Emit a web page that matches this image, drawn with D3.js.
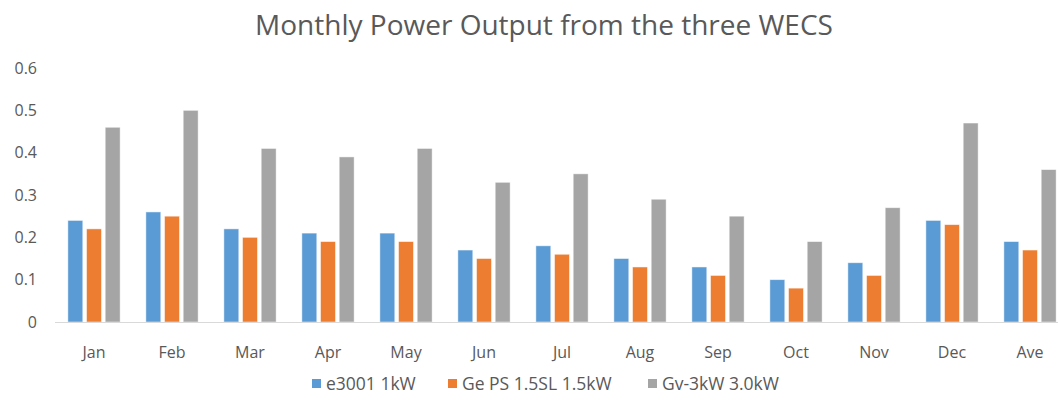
<!DOCTYPE html>
<html>
<head>
<meta charset="utf-8">
<script src="https://cdn.jsdelivr.net/npm/d3@7"></script>
<style>
	body { margin: 0; background: #fff; }
	svg text { font-family: "Open Sans", "Noto Sans", sans-serif; fill: #595959; }
</style>
</head>
<body>
<svg width="1058" height="406"></svg>
<script>

	var months = ["Jan","Feb","Mar","Apr","May","Jun","Jul","Aug","Sep","Oct","Nov","Dec","Ave"];
	var series_names = ["e3001 1kW", "Ge PS 1.5SL 1.5kW", "Gv-3kW 3.0kW"];
	var e3001 = [0.24, 0.26, 0.22, 0.21, 0.21, 0.17, 0.18, 0.15, 0.13, 0.10, 0.14, 0.24, 0.19];
	var ge_ps = [0.22, 0.25, 0.20, 0.19, 0.19, 0.15, 0.16, 0.13, 0.11, 0.08, 0.11, 0.23, 0.17];
	var gv_3kw = [0.46, 0.50, 0.41, 0.39, 0.41, 0.33, 0.35, 0.29, 0.25, 0.19, 0.27, 0.47, 0.36];
	var y_ticks = [0, 0.1, 0.2, 0.3, 0.4, 0.5, 0.6];
	var colors = ["#5B9BD5", "#ED7D31", "#A5A5A5"];

	var svg = d3.select("svg");
	var plot_left = 55, plot_right = 1069, plot_top = 68, plot_bottom = 322;

	var all_values = [e3001, ge_ps, gv_3kw];

	var x0 = d3.scaleBand().domain(months).range([plot_left, plot_right]).paddingInner(0.33).paddingOuter(0.165);
	var x1 = d3.scaleBand().domain(d3.range(3)).range([0, x0.bandwidth()]).paddingInner(0.2);
	var y = d3.scaleLinear().domain([0, 0.6]).range([plot_bottom, plot_top]);

	// title
	svg.append("text")
		.attr("x", 544).attr("y", 35)
		.attr("text-anchor", "middle")
		.style("font-size", "28px")
		.text("Monthly Power Output from the three WECS");

	// y axis labels (no axis line, no gridlines)
	svg.append("g").selectAll("text").data(y_ticks).enter()
		.append("text")
		.attr("x", 37)
		.attr("y", function(d){ return y(d); })
		.attr("dy", "0.35em")
		.attr("text-anchor", "end")
		.style("font-size", "16px")
		.text(function(d){ return d === 0 ? "0" : d3.format(".1f")(d); });

	// bars
	var groups = svg.append("g").selectAll("g").data(months).enter()
		.append("g")
		.attr("transform", function(d){ return "translate(" + x0(d) + ",0)"; });

	groups.selectAll("rect").data(function(d, i){
			return all_values.map(function(arr, s){ return {s: s, v: arr[i]}; });
		}).enter()
		.append("rect")
		.attr("x", function(d){ return x1(d.s); })
		.attr("y", function(d){ return y(d.v); })
		.attr("width", x1.bandwidth())
		.attr("height", function(d){ return plot_bottom - y(d.v); })
		.attr("fill", function(d){ return colors[d.s]; })
		.attr("stroke", "#fff")
		.attr("stroke-opacity", 0.6)
		.attr("stroke-width", 0.8);

	// baseline
	svg.append("line")
		.attr("x1", plot_left).attr("x2", plot_right)
		.attr("y1", plot_bottom + 0.5).attr("y2", plot_bottom + 0.5)
		.attr("stroke", "#d9d9d9").attr("stroke-width", 1);

	// x labels
	svg.append("g").selectAll("text").data(months).enter()
		.append("text")
		.attr("x", function(d){ return x0(d) + x0.bandwidth() / 2; })
		.attr("y", 352)
		.attr("dy", "0.35em")
		.attr("text-anchor", "middle")
		.style("font-size", "16px")
		.text(function(d){ return d; });

	// legend
	var legend_x = [312, 448, 648];
	var legend = svg.append("g").selectAll("g").data(series_names).enter()
		.append("g")
		.attr("transform", function(d, i){ return "translate(" + legend_x[i] + ",383)"; });
	legend.append("rect")
		.attr("x", 0).attr("y", -4).attr("width", 9).attr("height", 9)
		.attr("fill", function(d, i){ return colors[i]; });
	legend.append("text")
		.attr("x", 14).attr("y", 1).attr("dy", "0.35em")
		.style("font-size", "17.5px")
		.text(function(d){ return d; });

</script>
</body>
</html>
